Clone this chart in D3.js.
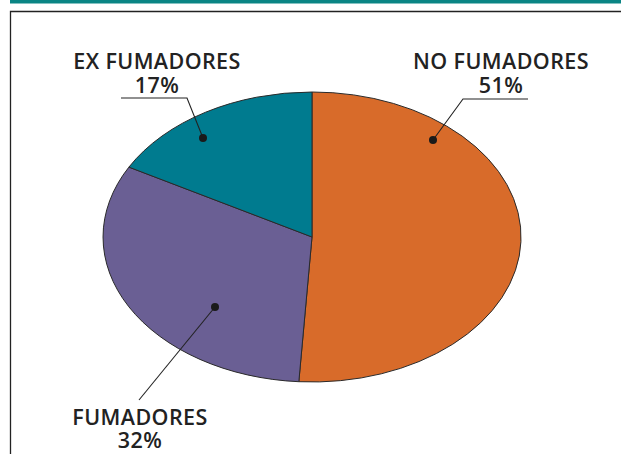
<!DOCTYPE html>
<html><head><meta charset="utf-8">
<script src="https://cdn.jsdelivr.net/npm/d3@7"></script>
<style>body{margin:0;background:#fff}svg{display:block}</style>
</head><body>
<script>
const categories = ["NO FUMADORES", "FUMADORES", "EX FUMADORES"];
const values = [51, 32, 17];
const valueLabels = ["51%", "32%", "17%"];
const colors = ["#D86B2A", "#6A5F94", "#007B8F"];

const W = 621, H = 454;
const cx = 312, cy = 237, rx = 209, ry = 145;

const svg = d3.select("body").append("svg").attr("width", W).attr("height", H);

// header bar and frame
svg.append("rect").attr("x", 10).attr("y", 0).attr("width", W - 10).attr("height", 3.5).attr("fill", "#0A8584");
svg.append("path").attr("d", `M10.5,${H} L10.5,11.5 L${W},11.5`).attr("fill", "none").attr("stroke", "#222").attr("stroke-width", 1.3);

const pie = d3.pie().sort(null).value(d => d)(values);
const arc = d3.arc().innerRadius(0).outerRadius(1);

const g = svg.append("g").attr("transform", `translate(${cx},${cy}) scale(${rx},${ry})`);
g.selectAll("path").data(pie).join("path")
  .attr("d", arc)
  .attr("fill", (d, i) => colors[i])
  .attr("stroke", "#2a2a2a")
  .attr("stroke-width", 1)
  .attr("vector-effect", "non-scaling-stroke");

const labelPos = [
  {tx: 501, ty: 69, ty2: 93, elbow: [[528, 99], [463, 99]], dot: [433, 140]},
  {tx: 140, ty: 425, ty2: 448, elbow: [[139, 400]], dot: [215, 307]},
  {tx: 157, ty: 69, ty2: 93, elbow: [[121, 98], [187, 98]], dot: [203, 138]}
];

pie.forEach((d, i) => {
  const p = labelPos[i];
  const pts = p.elbow.concat([p.dot]);
  svg.append("path").attr("d", d3.line()(pts)).attr("fill", "none").attr("stroke", "#222").attr("stroke-width", 1.1);
  svg.append("circle").attr("cx", p.dot[0]).attr("cy", p.dot[1]).attr("r", 4).attr("fill", "#1a1a1a");
  const style = s => s.attr("text-anchor", "middle")
    .attr("font-family", "'Open Sans', sans-serif").attr("font-weight", 600)
    .attr("font-size", 21.5).attr("letter-spacing", 0.4).attr("fill", "#222");
  svg.append("text").attr("x", p.tx).attr("y", p.ty).call(style).text(categories[i]);
  svg.append("text").attr("x", p.tx).attr("y", p.ty2).call(style).text(valueLabels[i]);
});
</script>
</body></html>
